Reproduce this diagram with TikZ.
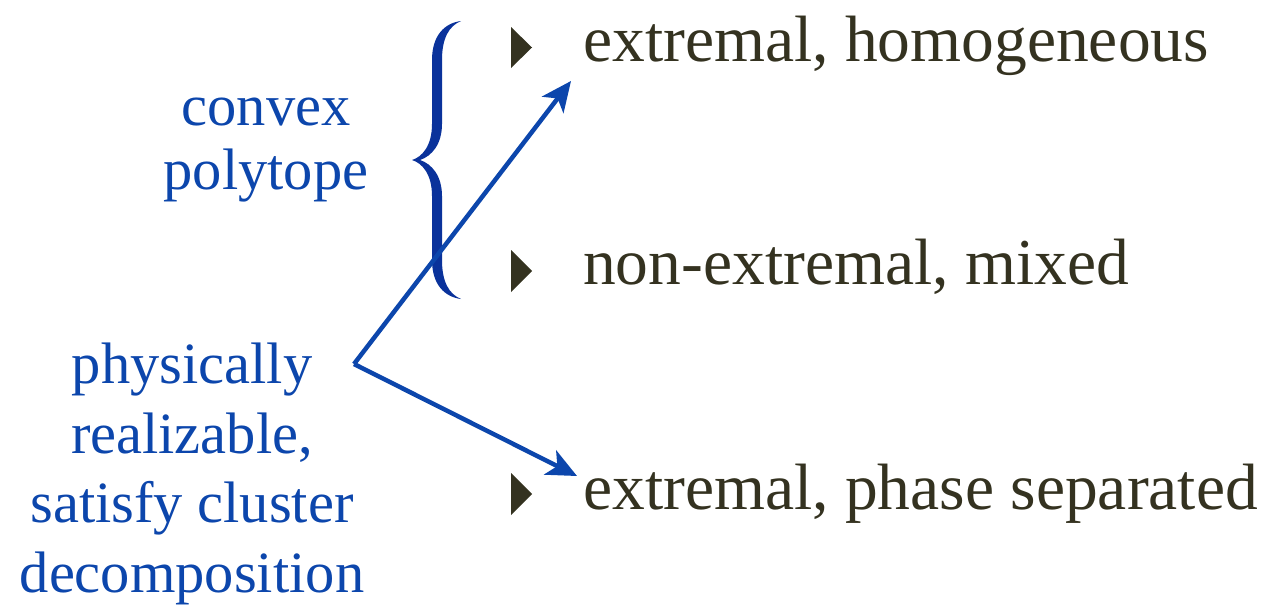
\documentclass[tikz,border=0pt]{standalone}
\usepackage{fontspec}
\setmainfont{Liberation Serif}
\usetikzlibrary{arrows.meta}
\definecolor{bluetxt}{RGB}{12,70,172}
\definecolor{bracecol}{RGB}{10,50,155}
\definecolor{darktxt}{RGB}{52,50,32}
\tikzset{
  bluelabel/.style={text=bluetxt, align=center, inner sep=0pt, anchor=base},
  item/.style={text=darktxt, anchor=base west, inner sep=0pt, font=\fontsize{65.5}{70}\selectfont},
  bullet/.style={fill=darktxt},
  branch/.style={draw=bluetxt, line width=4.5pt, -{Stealth[length=30pt,width=27pt,inset=8pt]}},
}
\begin{document}
\begin{tikzpicture}[x=1pt,y=-1pt]
\useasboundingbox (0,0) rectangle (1273,605);
% items
\node[item] (t1) at (583,61) {extremal, homogeneous};
\node[item] (t2) at (583,284) {non-extremal, mixed};
\node[item] (t3) at (583,509) {extremal, phase separated};
% bullets
\fill[bullet] (511,27) -- (532,47.5) -- (511,68) -- cycle;
\fill[bullet] (511,250) -- (532,271) -- (511,292) -- cycle;
\fill[bullet] (511,473) -- (532,494) -- (511,515) -- cycle;
% labels
\node[bluelabel, font=\fontsize{58.5}{64}\selectfont] (conv) at (266,189) {convex\\polytope};
\node[bluelabel, font=\fontsize{58.5}{69.5}\selectfont] (phys) at (192,592) {physically\\realizable,\\satisfy cluster\\decomposition};
% brace
\fill[bracecol] (461,21) .. controls (445,23) and (432,35) .. (432,60)
  -- (432,124) .. controls (432,146) and (422,157) .. (412,160)
  .. controls (422,163) and (432,174) .. (432,196)
  -- (432,260) .. controls (432,285) and (445,297) .. (461,299)
  .. controls (449,294) and (442,282) .. (442,260)
  -- (442,196) .. controls (442,176) and (432,164) .. (420,160)
  .. controls (432,156) and (442,144) .. (442,124)
  -- (442,60) .. controls (442,38) and (449,26) .. (461,21) -- cycle;
% arrows
\coordinate (split) at (354,364);
\coordinate (tipA) at (571,81);
\coordinate (tipB) at (577,476);
\draw[branch] (split) -- (tipA);
\draw[branch] (split) -- (tipB);
\end{tikzpicture}
\end{document}
